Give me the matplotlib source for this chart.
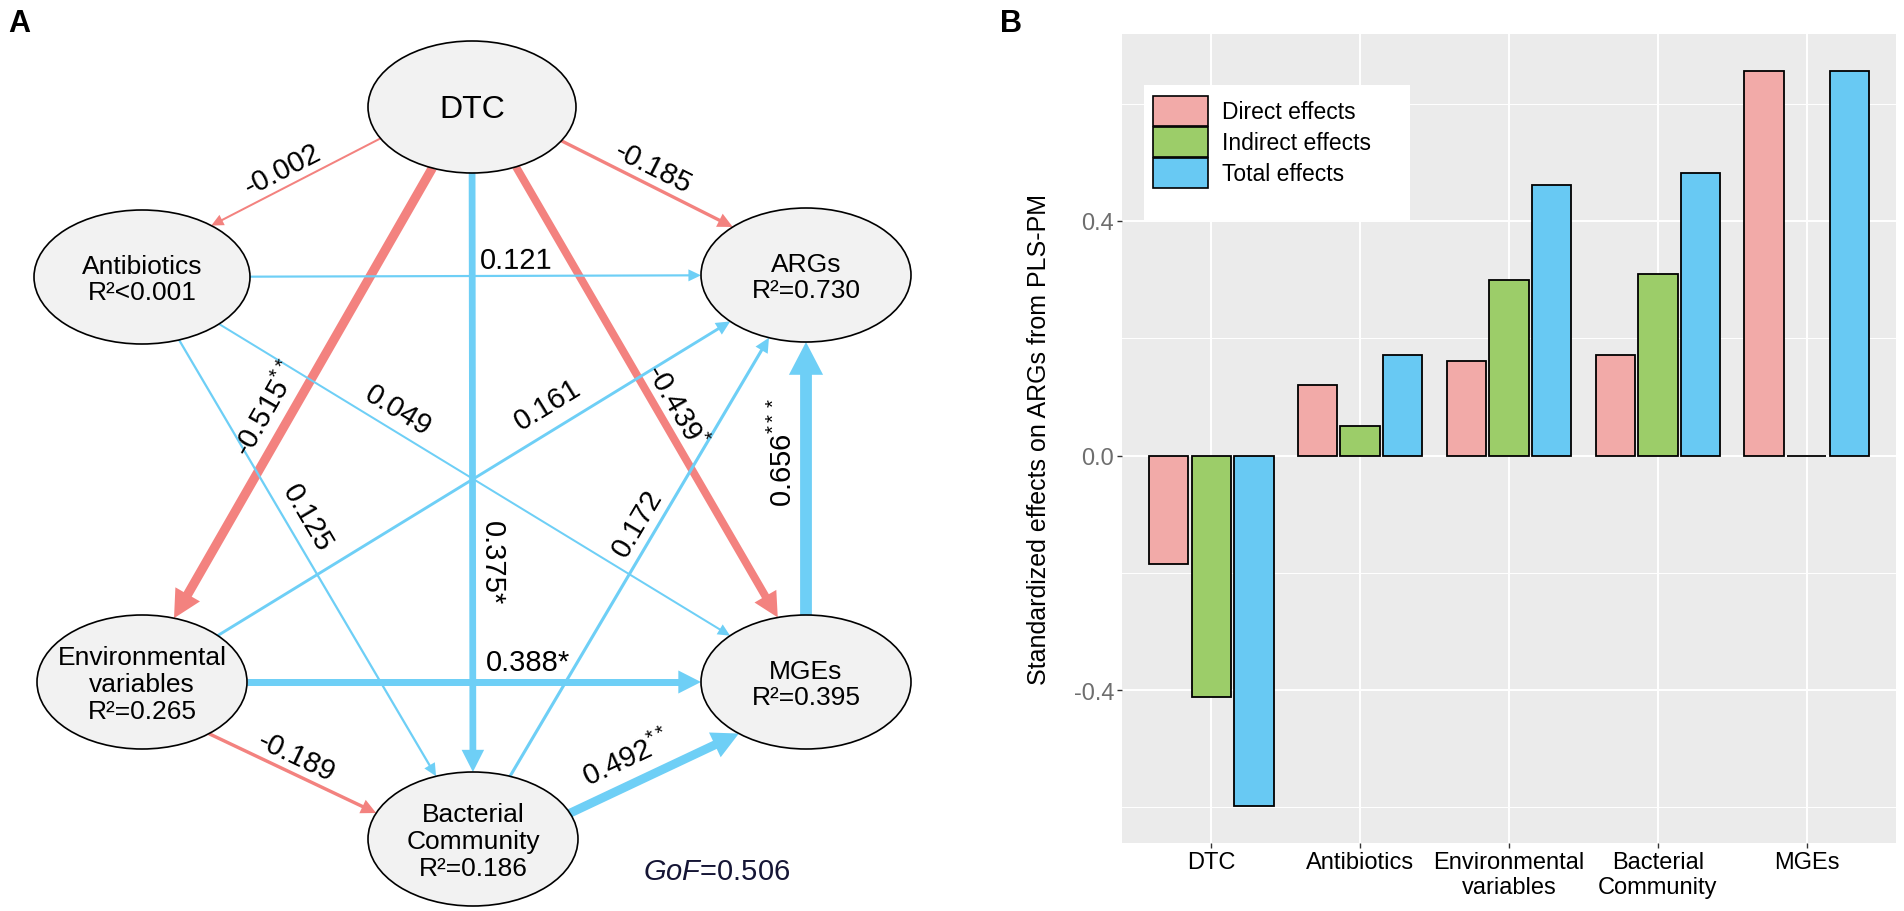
import numpy as np
import matplotlib.pyplot as plt
from matplotlib.patches import Ellipse, Polygon, Patch, Rectangle

plt.rcParams['font.family'] = ['Liberation Sans', 'DejaVu Sans']
plt.rcParams['mathtext.fontset'] = 'custom'
plt.rcParams['mathtext.rm'] = 'Liberation Sans'
plt.rcParams['mathtext.it'] = 'Liberation Sans:italic'

# ---------------- panel A data (PLS-PM path model)
r2_text = {'Antibiotics': '<0.001', 'ARGs': '=0.730', 'Env': '=0.265',
           'MGEs': '=0.395', 'Bac': '=0.186'}
node_names = {'DTC': 'DTC', 'Antibiotics': 'Antibiotics', 'ARGs': 'ARGs',
              'Env': 'Environmental\nvariables', 'MGEs': 'MGEs',
              'Bac': 'Bacterial\nCommunity'}
path_from = ['DTC', 'DTC', 'DTC', 'DTC', 'DTC', 'Antibiotics', 'Antibiotics',
             'Antibiotics', 'Env', 'Env', 'Env', 'Bac', 'Bac', 'MGEs']
path_to = ['Antibiotics', 'ARGs', 'Env', 'Bac', 'MGEs', 'ARGs', 'MGEs',
           'Bac', 'ARGs', 'MGEs', 'Bac', 'ARGs', 'MGEs', 'ARGs']
path_coef = [-0.002, -0.185, -0.515, 0.375, -0.439, 0.121, 0.049,
             0.125, 0.161, 0.388, -0.189, 0.172, 0.492, 0.656]
path_sig = ['', '', '**', '*', '*', '', '', '', '', '*', '', '', '**', '***']
sig_sup = [False, False, True, False, True, False, False,
           False, False, False, False, False, True, True]
gof = 0.506

# ---------------- panel B data (effects on ARGs)
effect_cats = ['DTC', 'Antibiotics', 'Environmental\nvariables',
               'Bacterial\nCommunity', 'MGEs']
direct = [-0.185, 0.121, 0.161, 0.172, 0.656]
indirect = [-0.411, 0.050, 0.300, 0.310, 0.000]
total = [-0.598, 0.172, 0.461, 0.482, 0.656]
effect_names = ['Direct effects', 'Indirect effects', 'Total effects']

# ---------------- layout (pixels)
node_xy = {'DTC': (472, 108), 'Antibiotics': (142, 278), 'ARGs': (806, 276),
           'Env': (142, 683), 'MGEs': (806, 683), 'Bac': (473, 840)}
node_ab = {'DTC': (104, 66), 'Antibiotics': (108, 67), 'ARGs': (105, 67),
           'Env': (105, 67), 'MGEs': (105, 67), 'Bac': (105, 67)}
# perpendicular shift of each path, label position (fraction, offset)
path_shift = [-14, 10, -4, 0, 8, 0, 0, 0, 0, 0, -18, 0, -18, 0]
label_t = [0.53, 0.49, 0.56, 0.65, 0.55, 0.59, 0.33, 0.43, 0.67, 0.62, 0.48, 0.556, 0.40, 0.60]
label_d = [-18, 18, -23, 19, 18, 16, 20, 20, 25, 20, 17, 19, 25, 23]

RED = '#F3827F'
BLUE = '#6ECFF6'

W, H = 1904, 912
fig = plt.figure(figsize=(W / 100, H / 100), dpi=100)


def ellipse_hits(p0, v, c, a, b):
    dx, dy = p0[0] - c[0], p0[1] - c[1]
    A = (v[0] / a) ** 2 + (v[1] / b) ** 2
    B = 2 * (dx * v[0] / a ** 2 + dy * v[1] / b ** 2)
    C = (dx / a) ** 2 + (dy / b) ** 2 - 1
    disc = np.sqrt(B * B - 4 * A * C)
    return (-B - disc) / (2 * A), (-B + disc) / (2 * A)


# ---------------- panel A
aw = 1104
axA = fig.add_axes([0, 0, aw / W, 1])
axA.set_xlim(0, aw)
axA.set_ylim(H, 0)
axA.axis('off')

for i in range(len(path_coef)):
    c = path_coef[i]
    cs = np.array(node_xy[path_from[i]], float)
    ct = np.array(node_xy[path_to[i]], float)
    u = (ct - cs) / np.linalg.norm(ct - cs)
    n = np.array([u[1], -u[0]])
    p0 = cs + path_shift[i] * n
    s_out = ellipse_hits(p0, u, cs, *node_ab[path_from[i]])[1]
    s_in = ellipse_hits(p0, u, ct, *node_ab[path_to[i]])[0]
    S = p0 + s_out * u
    E = p0 + s_in * u
    col = RED if c < 0 else BLUE
    lw = max(2.0, 18 * abs(c))
    hl = 8 + 2.1 * lw
    hw = 3.5 + 1.15 * lw
    base = E - hl * u
    stop = E - 0.7 * hl * u
    axA.plot([S[0], stop[0]], [S[1], stop[1]], color=col, lw=lw * 0.72,
             solid_capstyle='butt', zorder=2)
    axA.add_patch(Polygon([E, base + hw * n, base - hw * n], closed=True,
                          facecolor=col, edgecolor='none', zorder=2.5))
    # label
    L = S + label_t[i] * np.linalg.norm(E - S) * u + label_d[i] * n
    ang = np.degrees(np.arctan2(-u[1], u[0]))
    if ang > 90:
        ang -= 180
    if ang <= -90.5:
        ang += 180
    txt = '%.3f' % c
    if path_sig[i]:
        txt = txt + ('$^{%s}$' % path_sig[i] if sig_sup[i] else path_sig[i])
    axA.text(L[0], L[1], txt, fontsize=21, rotation=ang, rotation_mode='anchor',
             ha='center', va='center', zorder=4)

for k, (x, y) in node_xy.items():
    a, b = node_ab[k]
    axA.add_patch(Ellipse((x, y), 2 * a, 2 * b, facecolor='#F2F2F2',
                          edgecolor='black', lw=1.2, zorder=3))
    if k == 'DTC':
        axA.text(x, y + 2, 'DTC', fontsize=23, ha='center', va='center', zorder=4)
    else:
        axA.text(x, y + 2, node_names[k] + '\nR\u00b2' + r2_text[k], fontsize=19,
                 ha='center', va='center', linespacing=1.15, zorder=4)

axA.text(717, 872, r'$\mathit{GoF}$=%.3f' % gof, fontsize=21, color='#151535',
         ha='center', va='center')
axA.text(8, 24, 'A', fontsize=22, fontweight='bold', ha='left', va='center')

# ---------------- panel B
left, right, top, bottom = 1122, 1896, 35, 844
axB = fig.add_axes([left / W, 1 - bottom / H, (right - left) / W, (bottom - top) / H])
axB.set_facecolor('#EBEBEB')
for sp in axB.spines.values():
    sp.set_visible(False)

x = np.arange(len(effect_cats))
offs = [-0.286, 0, 0.286]
cols = ['#F2AAA8', '#9CCD69', '#68C9F3']
for vals, off, colr, name in zip([direct, indirect, total], offs, cols, effect_names):
    axB.bar(x + off, vals, width=0.265, color=colr, edgecolor='black',
            linewidth=1.3, label=name, zorder=3)

lo = min(min(direct), min(indirect), min(total))
hi = max(max(direct), max(indirect), max(total))
pad = 0.05 * (hi - lo)
axB.set_ylim(lo - pad, hi + pad)
axB.set_xlim(-0.6, len(effect_cats) - 0.4)
axB.set_yticks([-0.4, 0.0, 0.4])
axB.set_yticklabels(['-0.4', '0.0', '0.4'])
axB.set_yticks([-0.6, -0.2, 0.2, 0.6], minor=True)
axB.set_xticks(x)
axB.set_xticklabels(effect_cats)
axB.grid(which='major', color='white', lw=1.42, zorder=0)
axB.grid(which='minor', axis='y', color='white', lw=0.71, zorder=0)
axB.set_axisbelow(True)
axB.tick_params(axis='both', which='major', length=3.5, width=1, color='#333333', pad=2)
axB.tick_params(axis='y', which='minor', length=0)
axB.tick_params(axis='y', labelsize=17, labelcolor='#6E6E6E')
axB.tick_params(axis='x', labelsize=17, labelcolor='black')
axB.set_ylabel('Standardized effects on ARGs from PLS-PM', fontsize=18)
axB.yaxis.set_label_coords((1051 - left) / (right - left), 0.5)

# legend with white box
axB.add_patch(Rectangle(((1144 - left) / (right - left), (bottom - 221) / (bottom - top)),
                        266 / (right - left), 135 / (bottom - top),
                        transform=axB.transAxes, facecolor='white', edgecolor='none',
                        zorder=4))
handles = [Patch(facecolor=c, edgecolor='black', linewidth=1.2) for c in cols]
leg = axB.legend(handles, effect_names, loc='upper left',
                 bbox_to_anchor=((1153 - left) / (right - left), (bottom - 97) / (bottom - top)),
                 borderaxespad=0, borderpad=0, frameon=False, fontsize=16.5,
                 handlelength=2.4, handleheight=1.62, labelspacing=0.05,
                 handletextpad=0.6)
leg.set_zorder(5)

fig.text(1000 / W, 1 - 24 / H, 'B', fontsize=22, fontweight='bold', ha='left', va='center')

fig.savefig('out.png', dpi=100)
